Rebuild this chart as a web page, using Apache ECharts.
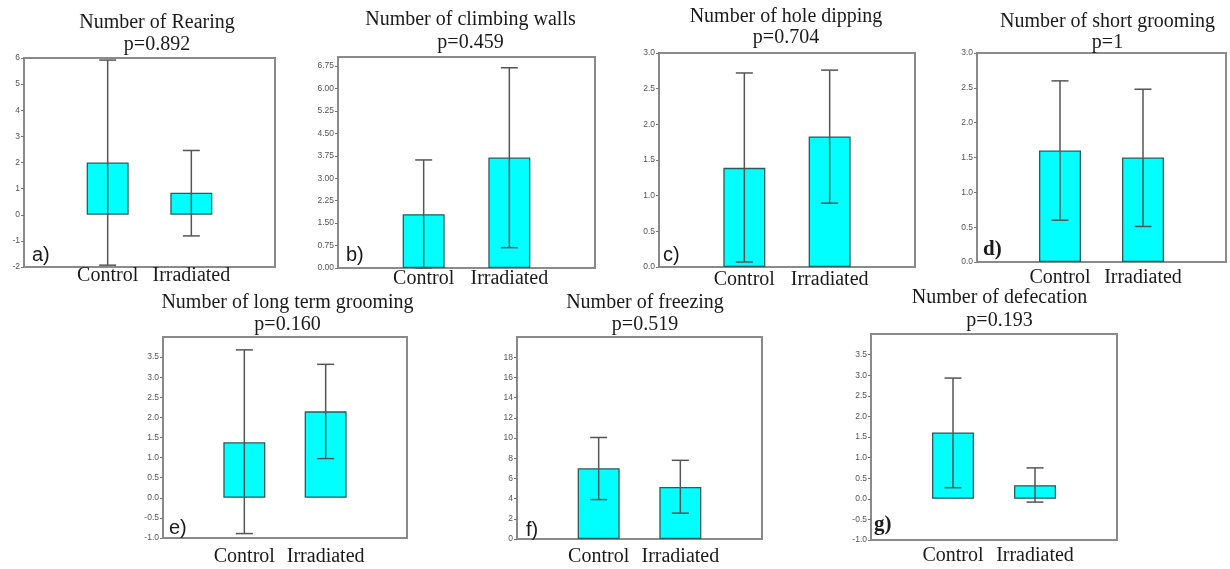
<!DOCTYPE html>
<html>
<head>
<meta charset="utf-8">
<script src="https://cdn.jsdelivr.net/npm/echarts@6/dist/echarts.min.js"></script>
<style>html,body{margin:0;padding:0;background:#fff}#c{width:1230px;height:569px}</style>
</head>
<body>
<div id="c"></div>
<script>
// ---- data ----
const categories = ['Control', 'Irradiated'];
const titles = ['Number of Rearing', 'Number of climbing walls', 'Number of hole dipping', 'Number of short grooming',
  'Number of long term grooming', 'Number of freezing', 'Number of defecation'];
const pLabels = ['p=0.892', 'p=0.459', 'p=0.704', 'p=1', 'p=0.160', 'p=0.519', 'p=0.193'];
const panelLetters = ['a)', 'b)', 'c)', 'd)', 'e)', 'f)', 'g)'];
const means  = [[2.0, 0.84], [1.80, 3.69], [1.39, 1.83], [1.60, 1.50], [1.38, 2.15], [7.0, 5.16], [1.61, 0.33]];
const lowers = [[-1.93, -0.81], [0.0, 0.68], [0.07, 0.895], [0.60, 0.51], [-0.89, 0.975], [3.9, 2.56], [0.27, -0.08]];
const uppers = [[5.92, 2.46], [3.61, 6.69], [2.72, 2.76], [2.60, 2.48], [3.68, 3.32], [10.05, 7.79], [2.93, 0.75]];
const yMins  = [-2, 0, 0, 0, -1, 0, -1];
const yMaxs  = [6, 7.05, 3, 3, 4, 20, 4];
const ySteps = [1, 0.75, 0.5, 0.5, 0.5, 2, 0.5];
const yDecimals = [0, 2, 1, 1, 1, 0, 1];

// ---- layout (positions / styles) ----
const grids = [
  [24, 58, 251, 209], [338, 57, 257, 211], [659, 53, 256, 214], [977, 53, 249, 209],
  [163, 337, 244, 201], [517, 337, 245, 202], [871, 334, 246, 206]
];
const showMax = [true, false, true, true, false, false, false];
const catMargin = [-1, 1, 3, 6, 9, 8, 6];
const titlePos = [[157, 23, 45], [470.5, 20, 43], [786, 16.5, 38], [1107.5, 21.5, 43],
  [287.5, 303, 325], [645, 303, 325], [999.5, 298, 321]];
const letterPos = [[32, 255, 'sans'], [346, 255, 'sans'], [663, 255, 'sans'], [983, 250, 'serif'],
  [169, 528, 'sans'], [526, 530, 'sans'], [874, 525, 'serif']];

const SERIF = '"Liberation Serif", "Times New Roman", serif';
const SANS = '"Liberation Sans", Arial, sans-serif';

const option = {
  animation: false,
  backgroundColor: '#fff',
  grid: [], xAxis: [], yAxis: [], series: [], graphic: []
};

grids.forEach((g, i) => {
  option.grid.push({
    left: g[0], top: g[1], width: g[2], height: g[3],
    show: true, borderColor: '#8a8a8a', borderWidth: 2, backgroundColor: '#fff'
  });
  option.xAxis.push({
    type: 'category', gridIndex: i, boundaryGap: false,
    data: [''].concat(categories, ['']),
    axisLine: { show: false }, axisTick: { show: false },
    axisLabel: { interval: 0, margin: catMargin[i], fontFamily: SERIF, fontSize: 20, color: '#1a1a1a' }
  });
  const dec = yDecimals[i];
  option.yAxis.push({
    type: 'value', gridIndex: i, min: yMins[i], max: yMaxs[i], interval: ySteps[i],
    axisLine: { show: false },
    axisTick: { show: true, inside: false, length: 3, lineStyle: { color: '#777', width: 1 } },
    splitLine: { show: false },
    axisLabel: { margin: 4, fontFamily: SANS, fontSize: 8.5, color: '#555', showMaxLabel: showMax[i], showMinLabel: true,
      formatter: v => Number(v).toFixed(dec) }
  });
  option.series.push({
    type: 'bar', xAxisIndex: i, yAxisIndex: i, barWidth: 42,
    data: means[i].map((v, k) => [k + 1, v]),
    itemStyle: { color: '#00FFFF', borderColor: '#2e5a5a', borderWidth: 1.3 },
    z: 2
  });
  option.series.push({
    type: 'custom', xAxisIndex: i, yAxisIndex: i, z: 3,
    encode: { x: 0, y: [1, 2] },
    data: lowers[i].map((lo, k) => [k + 1, lo, uppers[i][k]]),
    renderItem: (params, api) => {
      const x = api.value(0);
      const top = api.coord([x, api.value(2)]);
      const bot = api.coord([x, api.value(1)]);
      const hw = 8.5;
      const st = { stroke: '#555', lineWidth: 1.5 };
      return { type: 'group', children: [
        { type: 'line', shape: { x1: top[0], y1: top[1], x2: bot[0], y2: bot[1] }, style: st },
        { type: 'line', shape: { x1: top[0] - hw, y1: top[1], x2: top[0] + hw, y2: top[1] }, style: st },
        { type: 'line', shape: { x1: bot[0] - hw, y1: bot[1], x2: bot[0] + hw, y2: bot[1] }, style: st }
      ]};
    }
  });
  const tp = titlePos[i];
  option.graphic.push({ type: 'text', x: tp[0], y: tp[1], z: 10,
    style: { text: titles[i], font: '20px ' + SERIF, fill: '#1a1a1a', textAlign: 'center', textVerticalAlign: 'middle' } });
  option.graphic.push({ type: 'text', x: tp[0], y: tp[2], z: 10,
    style: { text: pLabels[i], font: '20px ' + SERIF, fill: '#1a1a1a', textAlign: 'center', textVerticalAlign: 'middle' } });
  const lp = letterPos[i];
  option.graphic.push({ type: 'text', x: lp[0], y: lp[1], z: 10,
    style: { text: panelLetters[i], font: (lp[2] === 'serif' ? 'bold 21px ' + SERIF : '20px ' + SANS), fill: '#1a1a1a',
      textAlign: 'left', textVerticalAlign: 'middle' } });
});

const chart = echarts.init(document.getElementById('c'), null, { renderer: 'canvas' });
chart.setOption(option);
</script>
</body>
</html>
